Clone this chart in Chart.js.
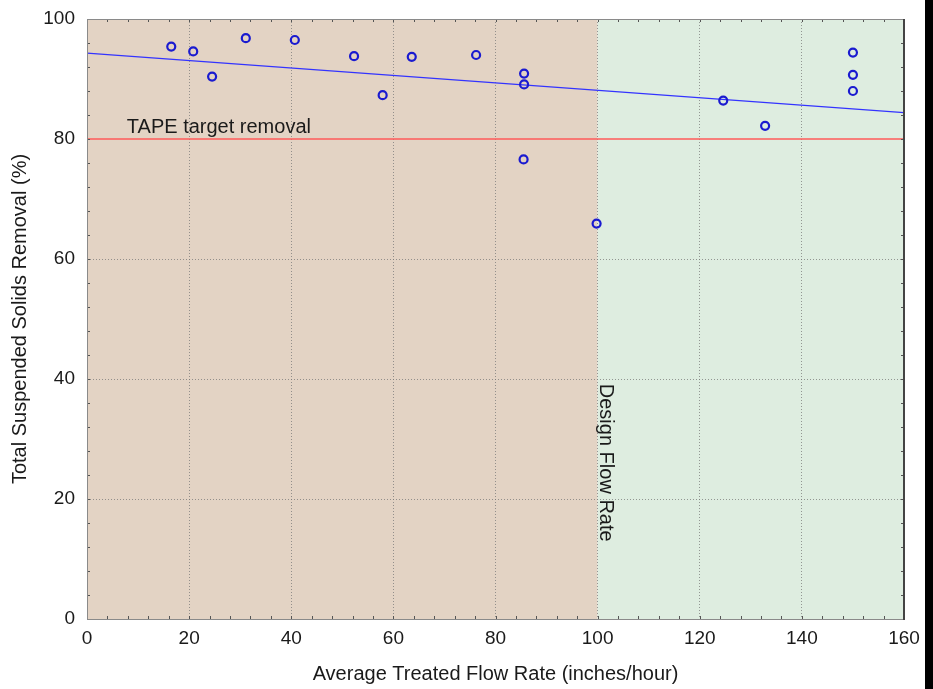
<!DOCTYPE html>
<html>
<head>
<meta charset="utf-8">
<script src="https://cdn.jsdelivr.net/npm/chart.js@4"></script>
<style>
  html, body { margin: 0; padding: 0; background: #000; overflow: hidden; }
  #wrap { width: 925px; height: 689px; background: #fff; }
</style>
</head>
<body>
<div id="wrap"><canvas id="tssChart" width="925" height="689"></canvas></div>
<script>
// --- data ---
const flowRate   = [16.5, 20.8, 24.5, 31.1, 40.7, 52.3, 57.9, 63.6, 76.2, 85.6, 85.6, 85.5, 99.8, 124.6, 132.8, 150, 150, 150];
const tssRemoval = [95.4, 94.6, 90.4, 96.8, 96.5, 93.8, 87.3, 93.7, 94.0, 90.9, 89.1, 76.6, 65.9, 86.4, 82.2, 94.4, 90.7, 88.0];

// fitted trend line (end points)
const trendX = [0, 160];
const trendY = [94.3, 84.4];

// TAPE target removal
const targetX = [0, 160];
const targetY = [80, 80];

// shaded zones: below / above design flow rate
const zoneStart = [0, 100];
const zoneEnd   = [100, 160];
const zoneColor = ['#e3d3c4', '#deede0'];

const xTickLabels = [0, 20, 40, 60, 80, 100, 120, 140, 160];
const yTickLabels = [0, 20, 40, 60, 80, 100];

Chart.defaults.font.family = "'Liberation Sans', Arial, sans-serif";
Chart.defaults.color = '#1a1a1a';

const toPoints = (xs, ys) => xs.map((x, i) => ({ x: x, y: ys[i] }));

// zones behind the grid
const zonesPlugin = {
    id: 'zones',
    beforeDraw(chart) {
        const { ctx, chartArea, scales: { x } } = chart;
        ctx.save();
        zoneStart.forEach((s, i) => {
            const x1 = x.getPixelForValue(s);
            const x2 = x.getPixelForValue(zoneEnd[i]);
            ctx.fillStyle = zoneColor[i];
            ctx.fillRect(x1, chartArea.top, x2 - x1, chartArea.bottom - chartArea.top);
        });
        ctx.restore();
    }
};

// frame with inside ticks on all four sides + text labels
const framePlugin = {
    id: 'frame',
    afterDatasetsDraw(chart) {
        const { ctx, chartArea: a, scales: { x, y } } = chart;
        ctx.save();
        ctx.strokeStyle = '#555';
        ctx.lineWidth = 1;
        ctx.beginPath();
        x.ticks.forEach(t => {
            const px = Math.round(x.getPixelForValue(t.value)) + 0.5;
            ctx.moveTo(px, a.bottom); ctx.lineTo(px, a.bottom - 3);
            ctx.moveTo(px, a.top); ctx.lineTo(px, a.top + 3);
        });
        y.ticks.forEach(t => {
            const py = Math.round(y.getPixelForValue(t.value)) + 0.5;
            ctx.moveTo(a.left, py); ctx.lineTo(a.left + 3, py);
            ctx.moveTo(a.right, py); ctx.lineTo(a.right - 3, py);
        });
        ctx.stroke();

        ctx.strokeStyle = '#8a8a8a';
        ctx.strokeRect(Math.round(a.left) + 0.5, Math.round(a.top) + 0.5,
            Math.round(a.right - a.left), Math.round(a.bottom - a.top));
        ctx.strokeStyle = '#444';
        ctx.lineWidth = 2;
        ctx.beginPath();
        ctx.moveTo(Math.round(a.right), a.top);
        ctx.lineTo(Math.round(a.right), a.bottom + 1);
        ctx.stroke();

        // text labels
        ctx.fillStyle = '#1a1a1a';
        ctx.font = "20px 'Liberation Sans', Arial, sans-serif";
        ctx.textBaseline = 'alphabetic';
        ctx.textAlign = 'left';
        ctx.fillText('TAPE target removal', x.getPixelForValue(7.8), y.getPixelForValue(81));

        ctx.translate(x.getPixelForValue(100.5), y.getPixelForValue(39.2));
        ctx.rotate(Math.PI / 2);
        ctx.fillText('Design Flow Rate', 0, 0);
        ctx.restore();
    }
};

// dotted grid only at the labelled values; none under the red target line
const gridColor = (ctx) => {
    const v = ctx.tick ? ctx.tick.value : null;
    if (v === null || v % 20 !== 0) return 'rgba(0,0,0,0)';
    if (ctx.scale.axis === 'y' && v === 80) return 'rgba(0,0,0,0)';
    return 'rgba(120,120,120,0.75)';
};

new Chart(document.getElementById('tssChart'), {
    type: 'scatter',
    data: {
        datasets: [
            {
                label: 'TSS removal',
                data: toPoints(flowRate, tssRemoval),
                pointStyle: 'circle',
                pointRadius: 4,
                pointBorderWidth: 2.2,
                borderColor: '#1a1ad0',
                backgroundColor: 'rgba(0,0,0,0)',
                order: 1
            },
            {
                type: 'line',
                label: 'Trend',
                data: toPoints(trendX, trendY),
                borderColor: '#3333ff',
                borderWidth: 1.2,
                pointRadius: 0,
                fill: false,
                order: 2
            },
            {
                type: 'line',
                label: 'Target',
                data: toPoints(targetX, targetY),
                borderColor: '#ff5a5a',
                borderWidth: 1.3,
                pointRadius: 0,
                fill: false,
                order: 3
            }
        ]
    },
    options: {
        responsive: false,
        animation: false,
        layout: { padding: { left: 0, right: 21, top: 19, bottom: 0 } },
        plugins: {
            legend: { display: false },
            tooltip: { enabled: false }
        },
        scales: {
            x: {
                type: 'linear',
                min: 0,
                max: 160,
                afterFit: (scale) => {
                    scale.height = 70;
                    scale.paddingLeft = 0;
                    scale.paddingRight = 0;
                },
                ticks: {
                    stepSize: 4,
                    autoSkip: false,
                    maxRotation: 0,
                    padding: 8,
                    font: { size: 19 },
                    callback: (v) => xTickLabels.includes(v) ? String(v) : ''
                },
                grid: { color: gridColor, drawTicks: false, lineWidth: 1 },
                border: { display: false, dash: [1, 2] },
                title: {
                    display: true,
                    text: 'Average Treated Flow Rate (inches/hour)',
                    font: { size: 20 },
                    padding: { top: 0, bottom: 3 }
                }
            },
            y: {
                type: 'linear',
                min: 0,
                max: 100,
                afterFit: (scale) => {
                    scale.width = 87;
                    scale.paddingTop = 0;
                    scale.paddingBottom = 0;
                },
                ticks: {
                    stepSize: 4,
                    autoSkip: false,
                    padding: 12,
                    font: { size: 19 },
                    callback: (v) => yTickLabels.includes(v) ? String(v) : ''
                },
                grid: { color: gridColor, drawTicks: false, lineWidth: 1 },
                border: { display: false, dash: [1, 2] },
                title: {
                    display: true,
                    text: 'Total Suspended Solids Removal (%)',
                    font: { size: 20 },
                    padding: { top: 8, bottom: 0 }
                }
            }
        }
    },
    plugins: [zonesPlugin, framePlugin]
});
</script>
</body>
</html>
